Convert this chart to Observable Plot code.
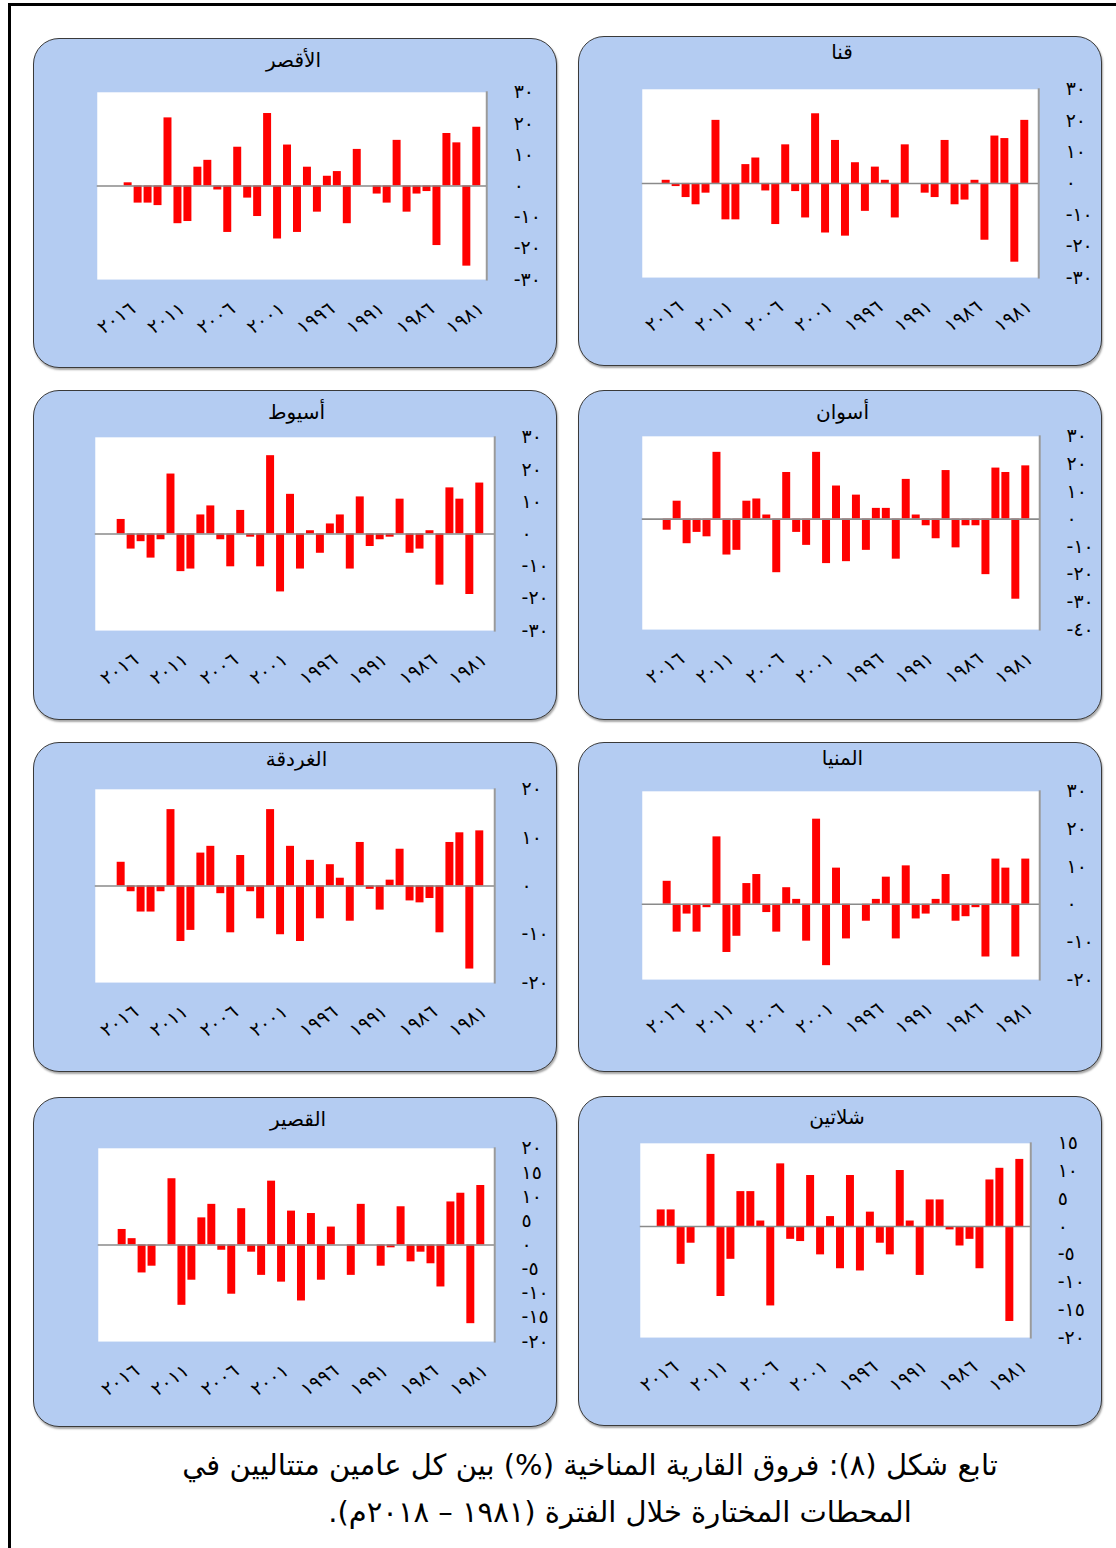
<!DOCTYPE html>
<html lang="ar">
<head>
<meta charset="utf-8">
<script src="https://cdn.jsdelivr.net/npm/d3@7"></script>
<script src="https://cdn.jsdelivr.net/npm/@observablehq/plot@0.6"></script>
<style>
  html, body { margin: 0; padding: 0; background: #fff; width: 1116px; height: 1548px; overflow: hidden; }
  #page { position: relative; width: 1116px; height: 1548px; font-family: "DejaVu Sans", "Liberation Sans", sans-serif; }
  #outer { position: absolute; left: 8px; top: 3px; width: 1200px; height: 1700px; border-left: 3px solid #000; border-top: 3px solid #000; }
  .panel { position: absolute; width: 524px; height: 330px; box-sizing: border-box; background: #b4ccf2;
           border: 1.5px solid #3a3a3a; border-radius: 26px; box-shadow: 1px 2px 2px rgba(0,0,0,0.35); }
  .panel svg { position: absolute; left: -1.5px; top: -1.5px; overflow: visible; }
  .title { position: absolute; font-size: 20px; color: #000; text-align: center; direction: rtl; white-space: nowrap; }
  .caption { position: absolute; left: 0; width: 1180px; text-align: center; direction: rtl; font-size: 29px; color: #000; white-space: nowrap; }
  g[aria-label="x-axis tick label"] text { letter-spacing: 3px; font-size: 19px; }
  g[aria-label="y-axis tick label"] text { letter-spacing: 2px; font-size: 19px; }
</style>
</head>
<body>
<div id="page"><div id="outer"></div></div>
<script>
// ---------- data ----------
const years = d3.range(2018, 1980, -1).map(String);          // 2018 ... 1981 (left to right)
const barYears = years.slice(1);                              // 2017 ... 1981
const tickYears = ["2016", "2011", "2006", "2001", "1996", "1991", "1986", "1981"];

const stationNames = ["قنا", "الأقصر", "أسوان", "أسيوط", "المنيا", "الغردقة", "شلاتين", "القصير"];

const qena      = [1, -1, -4.5, -6.8, -3.1, 20.1, -11.6, -11.6, 6, 8.1, -2.4, -13.1, 12.3, -2.6, -11, 22.2, -15.8, 13.7, -16.8, 6.6, -8.9, 5.2, 1, -11, 12.3, 0, -3.1, -4.5, 13.7, -6.8, -5.3, 1, -18.1, 15.1, 14.3, -25.1, 20.1];
const luxor     = [0, 1, -5.5, -5.5, -6.3, 21.8, -12.1, -11.4, 6, 8.2, -1.3, -14.9, 12.4, -3.9, -9.8, 23.2, -17, 13.1, -14.9, 6, -8.4, 3.1, 4.6, -12.1, 11.7, 0, -2.6, -5.5, 14.6, -8.4, -2.6, -1.8, -19.1, 16.8, 13.8, -25.7, 18.8];
const aswan     = [-4, 6.5, -8.9, -4.8, -6.4, 24.2, -13, -11.3, 6.5, 7.3, 1.5, -19.4, 16.9, -4.8, -9.5, 24.2, -16.1, 12, -15.4, 8.7, -11.3, 3.9, 3.9, -14.5, 14.4, 1.5, -2.4, -7.1, 17.6, -10.4, -2.4, -2.4, -20.1, 18.5, 16.9, -29, 19.3];
const asyut     = [4.5, -4.7, -2.4, -7.5, -1.8, 18.6, -11.7, -10.9, 5.9, 8.7, -1.8, -10.2, 7.3, -1, -10.2, 24.3, -18, 12.3, -10.9, 1, -6, 3.1, 5.9, -10.9, 11.5, -3.9, -1.8, -1, 10.8, -6, -4.7, 1, -15.9, 14.3, 10.8, -18.8, 15.8];
const minya     = [6.1, -7.4, -2.6, -7.4, -0.9, 17.9, -12.8, -8.5, 5.5, 7.9, -2.2, -7.4, 4.4, 1.3, -9.8, 22.6, -16.3, 9.6, -9.2, 0, -4.5, 1.3, 7.2, -9.2, 10.2, -3.9, -2.6, 1.3, 7.9, -4.5, -3.3, -0.9, -14, 12, 9.6, -14, 12];
const hurghada  = [4.9, -1.2, -5.4, -5.4, -1.2, 15.8, -11.5, -9.2, 6.8, 8.2, -1.6, -9.7, 6.3, -1.2, -6.8, 15.8, -10.1, 8.2, -11.5, 5.3, -6.8, 4.4, 1.6, -7.3, 9, -0.7, -5, 1.2, 7.6, -3.1, -3.5, -2.6, -9.7, 9, 11, -17.2, 11.4];
const shalateen = [3, 3, -6.8, -3, 0, 13, -12.6, -5.9, 6.3, 6.3, 1, -14.3, 11.3, -2.3, -2.7, 9.2, -5.1, 1.8, -7.6, 9.2, -8, 2.6, -3, -5.1, 10.1, 1, -8.8, 4.8, 4.8, -0.6, -3.5, -2.3, -7.6, 8.4, 10.5, -17.1, 12.1];
const qusair    = [3.2, 1.3, -5.8, -4.4, 0, 13.7, -12.5, -7.3, 5.6, 8.4, -1.1, -10.2, 7.5, -1.5, -6.3, 13.2, -7.7, 7, -11.6, 6.5, -7.3, 3.7, 0, -6.3, 8.4, 0, -4.4, -0.6, 7.9, -3.5, -1.5, -3.9, -8.7, 8.9, 10.7, -16.3, 12.3];

const ticks30 = [-30, -20, -10, 0, 10, 20, 30];
const ticksAswan = [-40, -30, -20, -10, 0, 10, 20, 30];
const ticksMinya = [-20, -10, 0, 10, 20, 30];
const ticksHurghada = [-20, -10, 0, 10, 20];
const ticksShalateen = [-20, -15, -10, -5, 0, 5, 10, 15];
const ticksQusair = [-20, -15, -10, -5, 0, 5, 10, 15, 20];

const captionLine1 = "تابع شكل (٨):  فروق القارية المناخية (%) بين كل عامين متتاليين في";
const captionLine2 = "المحطات المختارة خلال الفترة (١٩٨١ – ٢٠١٨م).";

const series = [qena, luxor, aswan, asyut, minya, hurghada, shalateen, qusair];
const yTicks = [ticks30, ticks30, ticksAswan, ticks30, ticksMinya, ticksHurghada, ticksShalateen, ticksQusair];

// ---------- layout (positions / margins, separate from data) ----------
const layout = [
  {left: 578, top: 36,   ml: 64, mr: 62, mt: 53, mb: 88, ty: 3},
  {left: 33,  top: 38,   ml: 64, mr: 69, mt: 54, mb: 88, ty: 9},
  {left: 578, top: 390,  ml: 64, mr: 61, mt: 46, mb: 90, ty: 9},
  {left: 33,  top: 390,  ml: 62, mr: 61, mt: 47, mb: 89, ty: 9},
  {left: 578, top: 742,  ml: 64, mr: 61, mt: 49, mb: 92, ty: 3},
  {left: 33,  top: 742,  ml: 62, mr: 61, mt: 47, mb: 89, ty: 4},
  {left: 578, top: 1096, ml: 62, mr: 70, mt: 47, mb: 88, ty: 8},
  {left: 33,  top: 1097, ml: 65, mr: 61, mt: 51, mb: 85, ty: 9}
];

const arabDigits = "٠١٢٣٤٥٦٧٨٩";
const toArabic = v => {
  const n = +v;
  const s = String(Math.abs(n)).replace(/\d/g, c => arabDigits[c]);
  return n < 0 ? "-" + s : s;
};
const yearArabic = y => String(y).replace(/\d/g, c => arabDigits[c]);

const page = document.getElementById("page");

series.forEach((vals, i) => {
  const L = layout[i];
  const ticks = yTicks[i];
  const data = barYears.map((y, j) => ({year: y, value: vals[j]}));
  const W = 524, H = 330;

  const div = document.createElement("div");
  div.className = "panel";
  div.style.left = L.left + "px";
  div.style.top = L.top + "px";

  const title = document.createElement("div");
  title.className = "title";
  title.textContent = stationNames[i];
  title.style.left = L.ml + "px";
  title.style.width = (W - L.ml - L.mr) + "px";
  title.style.top = L.ty + "px";
  div.appendChild(title);

  const chart = Plot.plot({
    width: W,
    height: H,
    marginLeft: L.ml,
    marginRight: L.mr,
    marginTop: L.mt,
    marginBottom: L.mb,
    style: {background: "transparent", fontFamily: "DejaVu Sans, sans-serif", fontSize: "19px", color: "#000", overflow: "visible"},
    x: {type: "band", domain: years, padding: 0.25, axis: null},
    y: {domain: [d3.min(ticks), d3.max(ticks)], axis: null},
    marks: [
      Plot.frame({fill: "#ffffff", stroke: null}),
      Plot.barY(data, {x: "year", y: "value", fill: "#ff0000"}),
      Plot.ruleY([0], {stroke: "#8a8a8a", strokeWidth: 1.6}),
      Plot.frame({anchor: "right", stroke: "#9a9a9a", strokeWidth: 2}),
      Plot.axisY(ticks, {anchor: "right", label: null, tickSize: 0, tickPadding: 27, tickFormat: toArabic, fill: "#000"}),
      Plot.axisX(tickYears, {anchor: "bottom", label: null, tickSize: 0, tickPadding: 27, tickRotate: -35, dx: 5, tickFormat: yearArabic, fill: "#000"})
    ]
  });
  div.appendChild(chart);
  page.appendChild(div);
});

const c1 = document.createElement("div");
c1.className = "caption";
c1.style.top = "1448px";
c1.textContent = captionLine1;
page.appendChild(c1);
const c2 = document.createElement("div");
c2.className = "caption";
c2.style.top = "1495px";
c2.style.left = "30px";
c2.textContent = captionLine2;
page.appendChild(c2);
</script>
</body>
</html>
